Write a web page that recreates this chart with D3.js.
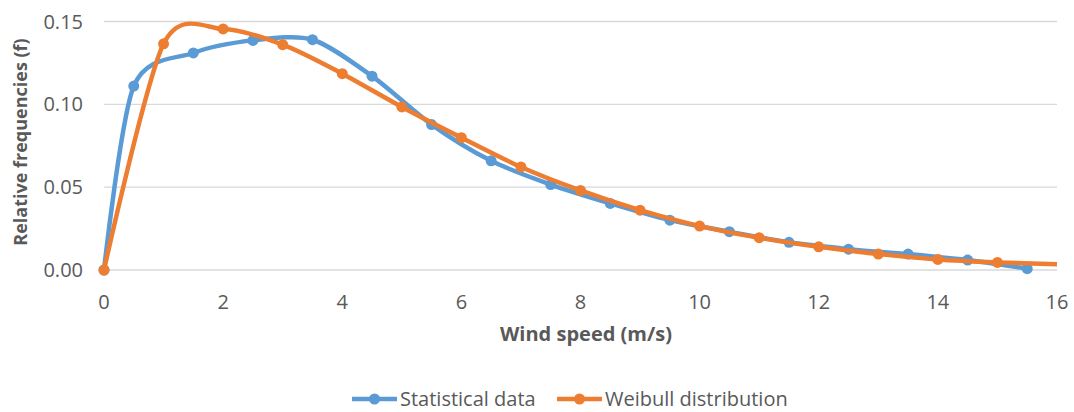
<!DOCTYPE html>
<html>
<head>
<meta charset="utf-8">
<script src="https://cdn.jsdelivr.net/npm/d3@7"></script>
<style>
  body { margin: 0; background: #fff; }
  text { font-family: "Open Sans", sans-serif; fill: #595959; }
</style>
</head>
<body>
<div id="chart"></div>
<script>
var svgWidth = 1074;
var svgHeight = 412;

// Statistical data: measured at bin centres (0, 0.5, 1.5, ... 15.5)
var statSpeeds = [0, 0.5, 1.5, 2.5, 3.5, 4.5, 5.5, 6.5, 7.5, 8.5, 9.5, 10.5, 11.5, 12.5, 13.5, 14.5, 15.5];
var statFreq = [0, 0.111, 0.131, 0.1386, 0.139, 0.117, 0.0878, 0.0659, 0.0516, 0.0402, 0.0301, 0.0231, 0.0167, 0.0126, 0.0096, 0.006, 0.0008];

// Weibull distribution at integer speeds
var weibSpeeds = [0, 1, 2, 3, 4, 5, 6, 7, 8, 9, 10, 11, 12, 13, 14, 15, 16];
var weibFreq = [0, 0.1365, 0.1455, 0.136, 0.1185, 0.0984, 0.0799, 0.0622, 0.048, 0.0361, 0.0265, 0.0195, 0.014, 0.0096, 0.0064, 0.0046, 0.0034];

var xTicks = [0, 2, 4, 6, 8, 10, 12, 14, 16];
var yTicks = [0, 0.05, 0.10, 0.15];

var svg = d3.select("#chart")
  .append("svg")
  .attr("width", svgWidth)
  .attr("height", svgHeight);

var xScale = d3.scaleLinear()
  .domain([0, 16])
  .range([104, 1057]);

var yScale = d3.scaleLinear()
  .domain([0, 0.15])
  .range([270, 21.5]);

// gridlines
svg.append("g")
  .selectAll("line")
  .data(yTicks)
  .enter()
  .append("line")
  .attr("x1", xScale(0))
  .attr("x2", xScale(16))
  .attr("y1", d => yScale(d))
  .attr("y2", d => yScale(d))
  .attr("stroke", "#d9d9d9")
  .attr("stroke-width", 1.3);

// y tick labels
svg.append("g")
  .selectAll("text")
  .data(yTicks)
  .enter()
  .append("text")
  .attr("x", 83)
  .attr("y", d => yScale(d))
  .attr("dy", "0.35em")
  .attr("text-anchor", "end")
  .attr("font-size", "20px")
  .text(d => d3.format(".2f")(d));

// x tick labels
svg.append("g")
  .selectAll("text")
  .data(xTicks)
  .enter()
  .append("text")
  .attr("x", d => xScale(d))
  .attr("y", 309)
  .attr("text-anchor", "middle")
  .attr("font-size", "20px")
  .text(d => d);

// axis titles
svg.append("text")
  .attr("x", 586)
  .attr("y", 341)
  .attr("text-anchor", "middle")
  .attr("font-size", "20px")
  .attr("font-weight", "bold")
  .text("Wind speed (m/s)");

svg.append("text")
  .attr("transform", "translate(27, 142) rotate(-90)")
  .attr("text-anchor", "middle")
  .attr("font-size", "18px")
  .attr("font-weight", "bold")
  .text("Relative frequencies (f)");

var series = [
  { name: "Statistical data", xs: statSpeeds, ys: statFreq, color: "#5b9bd5", markLast: true },
  { name: "Weibull distribution", xs: weibSpeeds, ys: weibFreq, color: "#ed7d31", markLast: false }
];

var line = d3.line()
  .x(d => xScale(d[0]))
  .y(d => yScale(d[1]))
  .curve(d3.curveCardinal.tension(0.15));

series.forEach(function(s) {
  var pts = s.xs.map((x, i) => [x, s.ys[i]]);
  svg.append("path")
    .datum(pts)
    .attr("d", line)
    .attr("fill", "none")
    .attr("stroke", s.color)
    .attr("stroke-width", 4.5)
    .attr("stroke-linejoin", "round");

  var markPts = s.markLast ? pts : pts.slice(0, -1);
  svg.append("g")
    .selectAll("circle")
    .data(markPts)
    .enter()
    .append("circle")
    .attr("cx", d => xScale(d[0]))
    .attr("cy", d => yScale(d[1]))
    .attr("r", 5.5)
    .attr("fill", s.color);
});

// legend
var legend = svg.append("g");
var legendX = [352, 557];
series.forEach(function(s, i) {
  var g = legend.append("g").attr("transform", `translate(${legendX[i]}, 399)`);
  g.append("line")
    .attr("x1", 0).attr("x2", 45)
    .attr("stroke", s.color)
    .attr("stroke-width", 4.5);
  g.append("circle")
    .attr("cx", 22.5)
    .attr("r", 5.5)
    .attr("fill", s.color);
  g.append("text")
    .attr("x", 48)
    .attr("dy", "0.35em")
    .attr("font-size", "20px")
    .text(s.name);
});
</script>
</body>
</html>
